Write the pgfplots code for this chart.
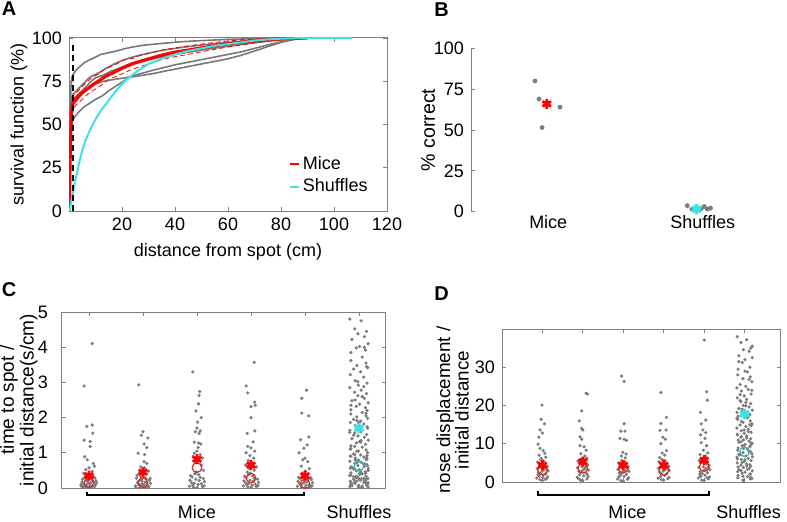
\documentclass[border=0pt]{standalone}
\usepackage{pgfplots}
\pgfplotsset{compat=1.18}
\usepackage{fontspec}
\setmainfont{Liberation Sans}
\definecolor{axgray}{RGB}{128,128,128}
\definecolor{ptgray}{RGB}{125,125,125}
\definecolor{cgray}{RGB}{120,120,120}
\definecolor{mcyan}{RGB}{64,224,230}
\definecolor{cred}{RGB}{215,45,45}
\newcommand{\lfont}{\fontsize{9}{10.8}\selectfont}
\pgfplotsset{
  mstyle/.style={
    scale only axis, anchor=south west,
    axis line style={axgray, line width=0.5pt},
    tick style={axgray, line width=0.4pt},
    major tick length=2.2pt,
    tick align=inside,
    /pgf/number format/assume math mode=true,
    tick label style={font=\lfont, black},
    label style={font=\lfont, black},
  },
  gdot/.style={only marks, mark=*, mark size=0.6pt, color=ptgray, mark options={draw=none, fill=ptgray}},
  rstar/.style={only marks, mark=asterisk, mark size=2.5pt, color=red, line width=1.4pt},
  rcirc/.style={only marks, mark=o, mark size=2.4pt, color=cred, line width=0.6pt},
  cstar/.style={only marks, mark=asterisk, mark size=2.6pt, color=mcyan, line width=1.6pt},
  ccirc/.style={only marks, mark=o, mark size=2.4pt, color=mcyan!80!black, line width=0.6pt},
}
\begin{document}
\begin{tikzpicture}
\useasboundingbox (0,0) rectangle (393.5pt,260.5pt);
% panel letters
\node[font=\bfseries\fontsize{10}{12}\selectfont] at (4.6pt,256pt) {A};
\node[font=\bfseries\fontsize{10}{12}\selectfont] at (220.8pt,255.5pt) {B};
\node[font=\bfseries\fontsize{10}{12}\selectfont] at (4.6pt,115.5pt) {C};
\node[font=\bfseries\fontsize{10}{12}\selectfont] at (220.8pt,113.5pt) {D};

% ---------------- A ----------------
\begin{axis}[mstyle, at={(34.5pt,155pt)}, width=159pt, height=86.5pt,
  xmin=0, xmax=120, ymin=0, ymax=100,
  xtick={20,40,...,120}, ytick={0,25,50,75,100},
  xlabel={distance from spot (cm)}, ylabel={survival function (\%)},
  xlabel style={at={(axis description cs:0.5,-0.237)}, anchor=center},
  ylabel style={at={(axis description cs:-0.157,0.5)}, anchor=center},
  legend style={at={(rel axis cs:0.69,0.335)}, anchor=north west, draw=none, fill=none,
    font=\lfont, inner sep=0pt, row sep=0pt, nodes={inner sep=1.5pt}},
  legend cell align=left,
  legend image code/.code={\draw[#1] (0pt,0pt) -- (4.5pt,0pt);},
  every axis plot/.append style={forget plot}]
\addplot[cgray, line width=0.8pt] coordinates {(0,0) (0.2,30) (0.5,62) (0.8,74) (1.2,78) (2,80) (3,82) (4.5,84) (6,86) (8,87.5) (10,89) (12,90.5) (15,91.5) (18,92.5) (21,93.8) (24,94.8) (28,95.8) (32,96.4) (36,97) (42,97.8) (50,98.5) (60,99.2) (70,99.6) (80,99.9) (88,100) (93,100)};
\addplot[cgray, line width=0.8pt] coordinates {(0,0) (0.3,35) (0.7,60) (1.2,67) (2.5,69) (4,71.5) (6,74.5) (8,77.5) (10,79) (12,80.5) (14,82.5) (17,85) (20,87) (23,88.5) (26,89.8) (30,91.2) (35,92.8) (40,94) (46,95.2) (52,96.3) (60,97.5) (68,98.5) (76,99.3) (85,100) (90,100)};
\addplot[cgray, line width=0.8pt] coordinates {(0,0) (0.3,30) (0.7,55) (1.2,63) (2.5,66) (4,68) (6,71) (8,74.5) (10,77) (13,78.5) (16,81) (19,82.5) (22,84.5) (26,86) (30,87.5) (35,89) (40,90.5) (46,92) (52,93.5) (58,94.8) (64,96) (70,97.2) (76,98.3) (82,99.2) (88,100) (92,100)};
\addplot[cgray, line width=0.8pt] coordinates {(0,0) (0.3,28) (0.7,52) (1.2,60) (2.5,63) (4,66) (6,69) (8,71.5) (10,73.5) (13,75) (16,75.8) (19,76.5) (22,77.2) (25,77.8) (28,78.5) (32,79.5) (36,80.8) (40,82) (45,83.5) (50,85) (55,86.5) (60,88) (65,90) (70,92.5) (75,95) (80,97.5) (85,99.2) (90,100)};
\addplot[cgray, line width=0.8pt] coordinates {(0,0) (0.3,25) (0.6,45) (1,51) (2,54) (3.5,57) (5.5,60) (7.5,62) (10,64.5) (12.5,66.5) (15,69.5) (17.5,72) (20,74.5) (22.5,77) (25,78.5) (28,79.8) (32,81.5) (36,83) (40,84.5) (45,86) (50,87.5) (55,89) (60,90.5) (65,92) (70,94) (75,96) (80,97.8) (85,99.2) (90,100)};
\addplot[red, line width=0.4pt, dash pattern=on 2.5pt off 1.5pt] coordinates {(0,0) (0.3,22) (0.6,45) (0.9,60) (1.3,65) (2,67.5) (3.5,69.5) (5,72) (7,75) (9,77.5) (11,79) (13,81.5) (15,82.8) (18,85) (21,87.5) (24,88.2) (27,90) (31,91.5) (35,93) (40,94.3) (45,95.5) (50,96.5) (57,97.8) (64,98.8) (70,99.4) (77,99.8) (84,100)};
\addplot[red, line width=0.4pt, dash pattern=on 2.5pt off 1.5pt] coordinates {(0,0) (0.3,10) (0.6,30) (0.9,48) (1.3,57) (2,60) (3.5,62.5) (5,64.5) (7,67.5) (9,69.5) (11,71.5) (13,73.5) (15,76) (18,78) (21,80) (24,82) (27,83.5) (31,85.5) (35,87.5) (40,89.2) (45,90.5) (50,92) (57,94) (64,95.8) (70,97.2) (76,98.5) (83,99.5) (90,100)};
\addplot[red, line width=1.6pt] coordinates {(0,0) (0.2,12) (0.4,28) (0.6,42) (0.9,56) (1.2,61) (1.6,63) (3,65.5) (5,68.5) (7.3,71) (9,73) (11,75) (14,78) (17.4,80.5) (20,82.5) (23.7,85) (28,87) (32.5,89) (36,90.5) (40,91.8) (45,93) (50,94.3) (57,96) (63,97.2) (69,98.2) (75,99) (82,99.7) (90,100)};
\addplot[mcyan, line width=1pt] coordinates {(0.3,0) (1,7) (2,15) (3,22) (4,29) (5,35) (6,40) (8,47) (10,53) (12,58) (15,64) (18,70) (21,75) (25,80) (30,85) (35,88) (40,90.5) (45,92.5) (50,94) (55,95.5) (60,96.5) (65,97.5) (70,98.5) (75,99.2) (80,99.6) (88,100) (107,100)};
\addplot[black, line width=0.6pt, dash pattern=on 3pt off 2pt] coordinates {(1.5,0) (1.5,96)};
\addlegendimage{red, line width=1pt}
\addlegendentry{Mice}
\addlegendimage{mcyan, line width=1pt}
\addlegendentry{Shuffles}
\end{axis}

% ---------------- B ----------------
\begin{axis}[mstyle, at={(235.5pt,154.65pt)}, width=154.5pt, height=81.7pt,
  xmin=0.5, xmax=2.5, ymin=0, ymax=100,
  axis y line*=left, axis x line*=bottom, axis line style={-},
  x axis line style={draw=none}, xtick style={draw=none},
  xtick={1,2}, xticklabels={Mice,Shuffles},
  xticklabel style={yshift=1.5pt},
  ytick={0,25,50,75,100},
  ylabel={\% correct},
  ylabel style={at={(axis description cs:-0.139,0.5)}, anchor=center, font=\fontsize{9.8}{11}\selectfont},
  clip=false]
\addplot[gdot, mark size=1pt] coordinates {(0.914,80) (0.94,69) (0.96,51.5) (1.076,64)};
\addplot[gdot, mark size=1pt] coordinates {(1.90,3.7) (1.93,1.6) (1.99,1.8) (2.01,3.2) (2.03,1.6) (2.05,2.2)};
\addplot[rstar] coordinates {(0.99,66)};
\addplot[cstar] coordinates {(1.96,1.5)};
\end{axis}

% ---------------- C ----------------
\begin{axis}[mstyle, at={(31pt,16.5pt)}, width=162pt, height=88pt,
  xmin=0.5, xmax=6.5, ymin=0, ymax=5,
  xtick={1,...,6}, xticklabels={}, ytick={0,...,5},
  yticklabel style={xshift=-3.5pt},
  ylabel={time to spot /\\initial distance(s/cm)},
  ylabel style={at={(axis description cs:-0.133,0.5)}, anchor=center, align=center, inner sep=0pt, font=\fontsize{9.5}{8.6}\selectfont},
  clip=false]
\addplot[gdot] coordinates {
(1.06,4.10) (0.91,2.90) (1.06,1.79) (0.96,1.75) (1.07,1.56) (0.91,1.36) (1.02,1.32) (1.02,1.18) (0.92,0.89) (0.97,0.80) (1.08,0.70) (1.00,0.57) (0.94,0.52) (1.06,0.47) (1.10,0.62) (0.90,0.42)
(0.86,0.05) (0.90,0.12) (0.94,0.03) (0.98,0.18) (1.02,0.08) (1.06,0.22) (1.10,0.04) (1.14,0.15) (0.88,0.25) (0.92,0.30) (0.96,0.10) (1.00,0.27) (1.04,0.02) (1.08,0.33) (1.12,0.09) (0.87,0.17) (0.91,0.07) (0.95,0.21) (0.99,0.01) (1.03,0.14) (1.07,0.06) (1.11,0.28) (1.05,0.38) (0.93,0.36) (1.13,0.20) (0.89,0.02) (1.01,0.11) (0.97,0.24) (1.09,0.16) (0.85,0.09)
(1.92,2.93) (2.00,1.60) (1.97,1.50) (2.09,1.42) (2.07,1.15) (1.91,0.99) (2.02,1.25) (2.03,0.95) (2.02,0.75) (2.07,0.70) (1.96,0.60) (2.03,0.57) (2.10,0.48) (1.93,0.42)
(1.86,0.06) (1.90,0.14) (1.94,0.02) (1.98,0.20) (2.02,0.09) (2.06,0.25) (2.10,0.03) (2.14,0.13) (1.88,0.28) (1.92,0.10) (1.96,0.32) (2.00,0.04) (2.04,0.17) (2.08,0.07) (2.12,0.22) (1.87,0.01) (1.91,0.19) (1.95,0.08) (1.99,0.12) (2.03,0.30) (2.07,0.15) (2.11,0.05) (1.89,0.36) (2.05,0.01) (2.13,0.27) (1.97,0.23)
(2.92,3.30) (3.05,2.74) (3.04,2.63) (3.03,2.39) (3.08,2.00) (2.98,2.19) (3.01,1.87) (3.00,1.70) (3.06,1.62) (2.97,1.60) (3.04,1.55) (2.95,1.30) (3.03,1.28) (3.07,1.25) (3.00,1.05) (2.95,0.99) (3.06,0.95) (2.97,0.75) (3.08,0.65) (3.10,0.85) (2.93,0.90) (3.02,1.15) (2.99,0.45) (3.12,0.50)
(2.86,0.05) (2.90,0.15) (2.94,0.02) (2.98,0.25) (3.02,0.10) (3.06,0.30) (3.10,0.04) (3.14,0.18) (2.88,0.35) (2.92,0.08) (2.96,0.40) (3.00,0.01) (3.04,0.21) (3.08,0.12) (3.12,0.27) (2.87,0.22) (2.91,0.31) (3.13,0.06) (2.95,0.13) (3.03,0.38)
(4.06,3.57) (3.91,2.90) (3.94,2.70) (4.00,2.31) (4.07,2.44) (4.08,2.35) (4.00,2.00) (4.07,1.62) (3.93,1.55) (4.04,1.31) (3.94,1.18) (4.00,1.14) (4.07,1.05) (3.91,1.00) (3.98,0.92) (4.05,0.85) (3.95,0.78) (4.02,0.72) (3.90,0.65) (4.10,0.60) (3.97,0.55) (4.06,0.50) (3.93,0.45)
(3.86,0.06) (3.90,0.14) (3.94,0.03) (3.98,0.22) (4.02,0.08) (4.06,0.28) (4.10,0.04) (4.14,0.16) (3.88,0.33) (3.92,0.10) (3.96,0.38) (4.00,0.02) (4.04,0.19) (4.08,0.11) (4.12,0.25) (3.87,0.20) (3.91,0.29) (4.13,0.07) (3.95,0.12) (4.03,0.35) (3.99,0.42)
(5.03,2.78) (4.94,2.55) (4.94,2.13) (5.07,2.05) (4.92,1.37) (5.07,1.45) (4.98,1.13) (5.04,1.22) (4.89,1.00) (5.00,0.85) (5.05,0.75) (4.96,0.80) (4.93,0.62) (5.08,0.55) (5.01,0.48) (4.95,0.42)
(4.86,0.05) (4.90,0.13) (4.94,0.02) (4.98,0.21) (5.02,0.08) (5.06,0.26) (5.10,0.03) (5.14,0.15) (4.88,0.30) (4.92,0.09) (4.96,0.34) (5.00,0.01) (5.04,0.18) (5.08,0.10) (5.12,0.24) (4.87,0.19) (4.91,0.27) (5.13,0.06) (4.95,0.12) (5.03,0.32) (4.99,0.16) (5.11,0.29)
};
\addplot[gdot] coordinates {
(5.83,4.80) (6.04,4.75) (5.92,4.52) (6.14,4.45) (5.98,4.38) (6.10,4.30) (5.87,4.22) (6.17,4.10) (6.01,4.02) (5.95,3.98) (6.12,3.92) (5.85,3.85)
(6.06,3.72) (5.85,3.62) (6.13,3.55) (5.96,3.48) (6.16,3.42) (5.90,3.38) (6.03,3.30) (5.84,3.22) (6.09,3.15) (5.93,3.05) (6.15,2.98) (5.99,2.92)
(5.83,2.85) (6.04,2.78) (5.92,2.72) (6.14,2.68) (5.98,2.62) (6.10,2.55) (5.87,2.48) (6.17,2.42) (6.01,2.38) (5.95,2.32) (6.12,2.28) (5.85,2.22)
(6.06,2.15) (5.85,2.10) (6.13,2.05) (5.96,2.02) (6.16,1.98) (5.90,1.95) (6.03,1.90) (5.84,1.86) (6.09,1.82) (5.93,1.78) (6.15,1.74) (5.99,1.68)
(5.83,1.64) (6.04,1.60) (5.92,1.56) (6.14,1.52) (5.98,1.48) (6.10,1.44) (5.87,1.40) (6.17,1.36) (6.01,1.32) (5.95,1.28) (6.12,1.24) (5.85,1.20)
(6.06,1.16) (5.85,1.12) (6.13,1.08) (5.96,1.04) (6.16,1.00) (5.90,0.97) (6.03,0.94) (5.84,0.91) (6.09,0.88) (5.93,0.85) (6.15,0.82) (5.99,0.79)
(5.83,0.76) (6.04,0.73) (5.92,0.70) (6.14,0.67) (5.98,0.64) (6.10,0.61) (5.87,0.58) (6.17,0.55) (6.01,0.52) (5.95,0.49) (6.12,0.46) (5.85,0.43)
(6.06,0.40) (5.85,0.37) (6.13,0.34) (5.96,0.31) (6.16,0.28) (5.90,0.25) (6.03,0.22) (5.84,0.19) (6.09,0.16) (5.93,0.13) (6.15,0.10) (5.99,0.07)
(5.83,0.04) (6.04,0.01) (5.92,0.95) (6.14,0.86) (5.98,0.77) (6.10,0.68) (5.87,0.59) (6.17,0.50) (6.01,0.41) (5.95,0.32) (6.12,0.23) (5.85,0.14)
(6.06,0.05) (5.85,0.90) (6.13,0.81) (5.96,0.72) (6.16,0.63) (5.90,0.54) (6.03,0.45) (5.84,0.36) (6.09,0.27) (5.93,0.18) (6.15,0.09) (5.99,0.02)
(5.83,0.35) (6.04,0.26) (5.92,0.17) (6.14,0.08) (5.98,0.30) (6.10,0.21) (5.87,0.12) (6.17,0.03) (6.01,0.38) (5.95,0.29) (6.12,0.20) (5.85,0.11)
(6.06,2.60) (5.85,2.35) (6.13,2.12) (5.96,1.92) (6.16,1.70) (5.90,1.50) (6.03,1.30) (5.84,1.10) (6.09,2.88) (5.93,2.50) (6.15,2.20) (5.99,1.85)
(5.83,1.58) (6.04,1.35) (5.92,1.18) (6.14,3.45) (5.98,3.02) (6.10,4.00) (5.87,0.06) (6.17,0.15) (6.01,0.24) (5.95,0.33) (6.12,0.42) (5.85,0.60)
(6.06,0.02) (5.85,0.08) (6.13,0.14) (5.96,0.20) (6.16,0.26) (5.90,0.32) (6.03,0.44) (5.84,0.56) (6.09,0.68) (5.93,0.80) (6.15,0.92) (5.99,1.05)
};
\addplot[rcirc] coordinates {(1,0.15) (2,0.15) (3,0.58) (4,0.28) (5,0.12)};
\addplot[rstar] coordinates {(1,0.35) (2,0.45) (3,0.82) (4,0.65) (5,0.35)};
\addplot[ccirc] coordinates {(6,0.62)};
\addplot[cstar] coordinates {(6,1.70)};
\draw[black, line width=1pt] (axis cs:0.96,-0.1) -- (axis cs:0.96,-0.2) -- (axis cs:4.98,-0.2) -- (axis cs:4.98,-0.1);
\node[font=\lfont] at (axis cs:3.0,-0.68) {Mice};
\node[font=\lfont] at (axis cs:6.0,-0.68) {Shuffles};
\end{axis}

% ---------------- D ----------------
\begin{axis}[mstyle, at={(251pt,19.5pt)}, width=139.5pt, height=76.5pt,
  xmin=0, xmax=6.9, ymin=0, ymax=40,
  xtick={1,...,6}, xticklabels={}, ytick={0,10,20,30},
  ylabel={nose displacement /\\initial distance},
  ylabel style={at={(axis description cs:-0.177,0.47)}, anchor=center, align=center, inner sep=0pt, font=\fontsize{9.4}{9.2}\selectfont},
  clip=false]
\addplot[gdot] coordinates {
(0.99,20.1) (0.97,16.4) (1.05,15.2) (0.94,13.6) (0.91,11.7) (1.00,12.8) (0.89,9.9) (0.94,8.8) (1.02,8.2) (1.06,7.5) (0.92,7.0) (1.08,6.5) (0.97,6.2)
(0.86,1.0) (0.90,2.5) (0.94,0.6) (0.98,3.8) (1.02,1.8) (1.06,4.6) (1.10,0.9) (1.14,2.9) (0.88,5.2) (0.92,1.5) (0.96,5.8) (1.00,0.4) (1.04,3.2) (1.08,2.1) (1.12,4.1) (0.87,3.5) (0.91,4.8) (1.13,1.3) (0.95,2.2) (1.03,5.5) (0.99,2.8) (1.11,3.6) (0.89,1.9) (1.07,0.7) (0.93,4.3) (1.01,1.2)
(2.08,23.2) (2.11,23.0) (1.97,18.6) (1.91,16.0) (1.97,14.0) (2.00,13.6) (1.93,11.8) (1.97,11.2) (2.03,9.2) (1.93,9.5) (2.08,8.3) (1.95,7.4) (2.05,6.8) (2.10,6.2)
(1.86,1.2) (1.90,2.8) (1.94,0.5) (1.98,4.0) (2.02,1.6) (2.06,4.9) (2.10,0.8) (2.14,3.1) (1.88,5.5) (1.92,1.9) (1.96,6.0) (2.00,0.3) (2.04,3.4) (2.08,2.3) (2.12,4.4) (1.87,3.7) (1.91,5.1) (2.13,1.4) (1.95,2.5) (2.03,5.8) (1.99,3.0) (2.11,2.0) (1.89,0.9) (2.07,3.9)
(2.96,27.7) (3.02,26.3) (3.02,15.2) (2.94,13.3) (3.04,13.3) (2.92,11.4) (3.02,11.2) (3.08,10.9) (3.07,7.3) (2.95,6.8) (3.05,6.3) (2.99,7.8)
(2.86,0.8) (2.90,2.4) (2.94,0.4) (2.98,3.6) (3.02,1.5) (3.06,4.5) (3.10,0.7) (3.14,2.8) (2.88,5.0) (2.92,1.7) (2.96,5.6) (3.00,0.2) (3.04,3.0) (3.08,2.0) (3.12,4.0) (2.87,3.3) (2.91,4.7) (3.13,1.1) (2.95,2.2) (3.03,5.3) (2.99,2.7) (3.11,3.5) (2.89,1.3)
(3.93,23.4) (4.07,16.9) (3.93,15.3) (4.06,13.6) (3.91,13.5) (3.98,11.7) (4.04,11.2) (3.93,10.0) (4.07,8.2) (3.96,7.6) (4.02,7.0) (3.90,6.4)
(3.86,1.0) (3.90,2.6) (3.94,0.6) (3.98,3.9) (4.02,1.7) (4.06,4.7) (4.10,0.9) (4.14,3.0) (3.88,5.3) (3.92,1.4) (3.96,5.9) (4.00,0.5) (4.04,3.3) (4.08,2.2) (4.12,4.2) (3.87,3.6) (3.91,4.9) (4.13,1.2) (3.95,2.1) (4.03,5.6) (3.99,2.9) (4.11,3.7)
(5.00,37.1) (5.06,23.6) (5.08,21.4) (4.91,18.2) (5.04,16.2) (4.93,15.2) (4.97,13.6) (5.04,12.9) (4.91,12.3) (5.02,11.4) (4.93,10.3) (5.06,9.5) (4.98,8.3) (5.09,7.6) (4.90,7.2) (5.03,6.8)
(4.86,1.1) (4.90,2.7) (4.94,0.5) (4.98,4.0) (5.02,1.8) (5.06,4.8) (5.10,0.8) (5.14,3.2) (4.88,5.6) (4.92,1.5) (4.96,6.2) (5.00,0.4) (5.04,3.5) (5.08,2.4) (5.12,4.4) (4.87,3.8) (4.91,5.0) (5.13,1.3) (4.95,2.2) (5.03,5.9) (4.99,3.0) (5.11,3.9) (4.89,2.0) (5.07,1.1)
};
\addplot[gdot] coordinates {
(5.82,38.0) (6.05,37.2) (5.91,36.5) (6.15,35.0) (5.97,34.6) (6.11,34.2) (5.86,33.0) (6.19,32.5) (6.01,32.0) (5.94,31.2) (6.13,30.0) (5.84,29.5)
(6.07,28.8) (5.83,28.0) (6.14,27.5) (5.96,27.0) (6.18,26.2) (5.89,25.5) (6.03,25.0) (5.81,24.6) (6.09,24.2) (5.92,23.8) (6.16,23.0) (5.99,22.5)
(5.82,22.0) (6.05,21.6) (5.91,21.0) (6.15,20.5) (5.97,20.0) (6.11,19.6) (5.86,19.2) (6.19,18.8) (6.01,18.5) (5.94,18.0) (6.13,17.6) (5.84,17.2)
(6.07,16.8) (5.83,16.4) (6.14,16.0) (5.96,15.6) (6.18,15.2) (5.89,14.9) (6.03,14.5) (5.81,14.1) (6.09,13.8) (5.92,13.4) (6.16,13.0) (5.99,12.7)
(5.82,12.3) (6.05,12.0) (5.91,11.7) (6.15,11.3) (5.97,11.0) (6.11,10.7) (5.86,10.4) (6.19,10.1) (6.01,9.8) (5.94,9.5) (6.13,9.2) (5.84,8.9)
(6.07,8.6) (5.83,8.3) (6.14,8.0) (5.96,7.7) (6.18,7.4) (5.89,7.1) (6.03,6.8) (5.81,6.5) (6.09,6.2) (5.92,5.9) (6.16,5.6) (5.99,5.3)
(5.82,5.0) (6.05,4.7) (5.91,4.4) (6.15,4.1) (5.97,3.8) (6.11,3.5) (5.86,3.2) (6.19,2.9) (6.01,2.6) (5.94,2.3) (6.13,2.0) (5.84,1.7)
(6.07,1.4) (5.83,1.1) (6.14,0.8) (5.96,0.5) (6.18,24.0) (5.89,21.3) (6.03,19.9) (5.81,18.2) (6.09,17.0) (5.92,15.8) (6.16,14.7) (5.99,13.6)
(5.82,12.5) (6.05,11.5) (5.91,10.5) (6.15,9.6) (5.97,8.8) (6.11,7.9) (5.86,7.2) (6.19,6.6) (6.01,5.8) (5.94,5.1) (6.13,4.5) (5.84,3.9)
(6.07,3.3) (5.83,2.7) (6.14,2.1) (5.96,1.5) (6.18,0.9) (5.89,22.8) (6.03,20.8) (5.81,16.6) (6.09,13.2) (5.92,11.9) (6.16,10.2) (5.99,9.0)
(5.82,6.0) (6.05,4.2) (5.91,3.0) (6.15,1.2) (5.97,0.3) (6.11,26.8) (5.86,31.5) (6.19,35.5) (6.01,29.0) (5.94,19.0) (6.13,15.0) (5.84,11.0)
};
\addplot[rcirc] coordinates {(1,3.1) (2,3.6) (3,3.6) (4,3.0) (5,4.0)};
\addplot[rstar] coordinates {(1,4.4) (2,5.3) (3,4.4) (4,4.4) (5,5.7)};
\addplot[ccirc] coordinates {(6,7.9)};
\addplot[cstar] coordinates {(6,17.8)};
\draw[black, line width=1pt] (axis cs:0.88,-2.4) -- (axis cs:0.88,-3.4) -- (axis cs:5.11,-3.4) -- (axis cs:5.11,-2.4);
\node[font=\lfont] at (axis cs:3.1,-7.8) {Mice};
\node[font=\lfont] at (axis cs:6.1,-7.8) {Shuffles};
\end{axis}
\end{tikzpicture}
\end{document}
